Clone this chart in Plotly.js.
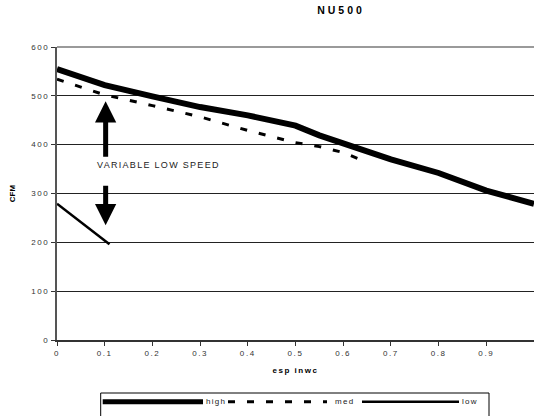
<!DOCTYPE html>
<html>
<head>
<meta charset="utf-8">
<script src="https://cdn.plot.ly/plotly-3.0.1.min.js"></script>
<style>
  html, body { margin: 0; padding: 0; background: #fff; }
  #chart { width: 534px; height: 416px; }
  .xtick text, .ytick text { letter-spacing: 1.6px; }
  .gtitle { letter-spacing: 3px; }
  .g-xtitle text { letter-spacing: 1.5px; }
  .annotation-text { letter-spacing: 1.3px; }
</style>
</head>
<body>
<div id="chart"></div>
<script>
// ---- data ----
const highX = [0, 0.1, 0.2, 0.3, 0.4, 0.45, 0.5, 0.55, 0.6, 0.7, 0.8, 0.9, 1.0];
const highY = [555, 522, 499, 477, 460, 451, 439, 419, 402, 370, 342, 306, 279];

const medX = [0, 0.1, 0.2, 0.3, 0.4, 0.5, 0.55, 0.6, 0.63];
const medY = [534, 502, 480, 457, 429, 404, 396, 384, 372];

const lowX = [0, 0.11];
const lowY = [279, 196];

const xTickVals = [0, 0.1, 0.2, 0.3, 0.4, 0.5, 0.6, 0.7, 0.8, 0.9];
const xTickText = ["0", "0.1", "0.2", "0.3", "0.4", "0.5", "0.6", "0.7", "0.8", "0.9"];
const yTickVals = [0, 100, 200, 300, 400, 500, 600];

const seriesNames = ["high", "med", "low"];
const noteText = "VARIABLE LOW SPEED";
// ---------------------------------------

const FONT = "Liberation Sans, Arial, Helvetica, sans-serif";
const W = 534, H = 416;
const M = { l: 57, r: 0, t: 47, b: 76 };
const PW = W - M.l - M.r, PH = H - M.t - M.b;
const px2x = p => (p - M.l) / PW;          // pixel -> paper x
const px2y = p => (H - M.b - p) / PH;      // pixel -> paper y

const styles = {
  high: { color: "#000", width: 6, dash: "solid" },
  med:  { color: "#000", width: 3, dash: "7px,12px" },
  low:  { color: "#000", width: 2.5, dash: "solid" }
};

const traces = [
  { x: highX, y: highY, name: seriesNames[0], type: "scatter", mode: "lines",
    line: { color: styles.high.color, width: styles.high.width, dash: styles.high.dash } },
  { x: medX, y: medY, name: seriesNames[1], type: "scatter", mode: "lines",
    line: { color: styles.med.color, width: styles.med.width, dash: styles.med.dash } },
  { x: lowX, y: lowY, name: seriesNames[2], type: "scatter", mode: "lines",
    line: { color: styles.low.color, width: styles.low.width, dash: styles.low.dash } }
];

// hand-drawn legend box (Excel-style long sample lines)
const legendY = px2y(401.7);
const legendItems = [
  { name: seriesNames[0], x0: 102.7, x1: 203, tx: 203.5, st: styles.high },
  { name: seriesNames[1], x0: 228,   x1: 327, tx: 333,   st: styles.med },
  { name: seriesNames[2], x0: 362,   x1: 459, tx: 459.5, st: styles.low }
];

const shapes = [
  // grey top border of plot area
  { type: "line", xref: "paper", yref: "paper", x0: 0, x1: 1, y0: 1, y1: 1,
    line: { color: "#9a9a9a", width: 2 } },
  // legend frame
  { type: "rect", xref: "paper", yref: "paper",
    x0: px2x(100.7), x1: px2x(489), y0: px2y(393), y1: px2y(450),
    line: { color: "#000", width: 1 }, fillcolor: "rgba(0,0,0,0)" }
];
legendItems.forEach(it => {
  shapes.push({ type: "line", xref: "paper", yref: "paper",
    x0: px2x(it.x0), x1: px2x(it.x1), y0: legendY, y1: legendY,
    line: { color: it.st.color, width: it.st.width === 6 ? 5 : it.st.width, dash: it.st.dash } });
});

const annotations = [
  { text: noteText, xref: "x", yref: "y", x: 0.0805, y: 358,
    xanchor: "left", yanchor: "middle", showarrow: false,
    font: { family: FONT, size: 9, color: "#222" } },
  // up arrow
  { text: "", xref: "x", yref: "y", axref: "x", ayref: "y",
    x: 0.102, y: 489, ax: 0.102, ay: 372,
    showarrow: true, arrowhead: 2, arrowsize: 0.85, arrowwidth: 5, arrowcolor: "#000" },
  // down arrow
  { text: "", xref: "x", yref: "y", axref: "x", ayref: "y",
    x: 0.102, y: 235, ax: 0.102, ay: 319,
    showarrow: true, arrowhead: 2, arrowsize: 0.85, arrowwidth: 5, arrowcolor: "#000" }
];
legendItems.forEach(it => {
  annotations.push({ text: it.name, xref: "paper", yref: "paper",
    x: px2x(it.tx), y: legendY, xanchor: "left", yanchor: "middle",
    showarrow: false, font: { family: FONT, size: 8, color: "#222" } });
});

const layout = {
  width: W, height: H,
  margin: { l: M.l, r: M.r, t: M.t, b: M.b, pad: 0 },
  paper_bgcolor: "#fff", plot_bgcolor: "#fff",
  showlegend: false,
  font: { family: FONT, size: 8, color: "#333" },
  title: { text: "NU500", font: { family: FONT, size: 10.5, color: "#000", weight: "bold" },
    xref: "container", yref: "container", x: 341 / W, xanchor: "center",
    y: 1 - 10.5 / H, yanchor: "middle" },
  xaxis: {
    range: [0, 1], tickvals: xTickVals, ticktext: xTickText,
    ticks: "outside", ticklen: 4, tickwidth: 1, tickcolor: "#333",
    showline: true, linecolor: "#333", linewidth: 2,
    showgrid: false, zeroline: false, fixedrange: true,
    tickfont: { family: FONT, size: 8, color: "#333" },
    title: { text: "esp inwc", font: { family: FONT, size: 8, color: "#000", weight: "bold" }, standoff: 11 }
  },
  yaxis: {
    range: [0, 600], tickvals: yTickVals,
    ticks: "outside", ticklen: 4, tickwidth: 1, tickcolor: "#333",
    showline: true, linecolor: "#555", linewidth: 2,
    showgrid: true, gridcolor: "#222", gridwidth: 1, zeroline: false, fixedrange: true,
    tickfont: { family: FONT, size: 8, color: "#333" },
    title: { text: "CFM", font: { family: FONT, size: 8, color: "#000", weight: "bold" }, standoff: 14 }
  },
  shapes: shapes,
  annotations: annotations
};

Plotly.newPlot("chart", traces, layout, { staticPlot: true, displayModeBar: false });
</script>
</body>
</html>
